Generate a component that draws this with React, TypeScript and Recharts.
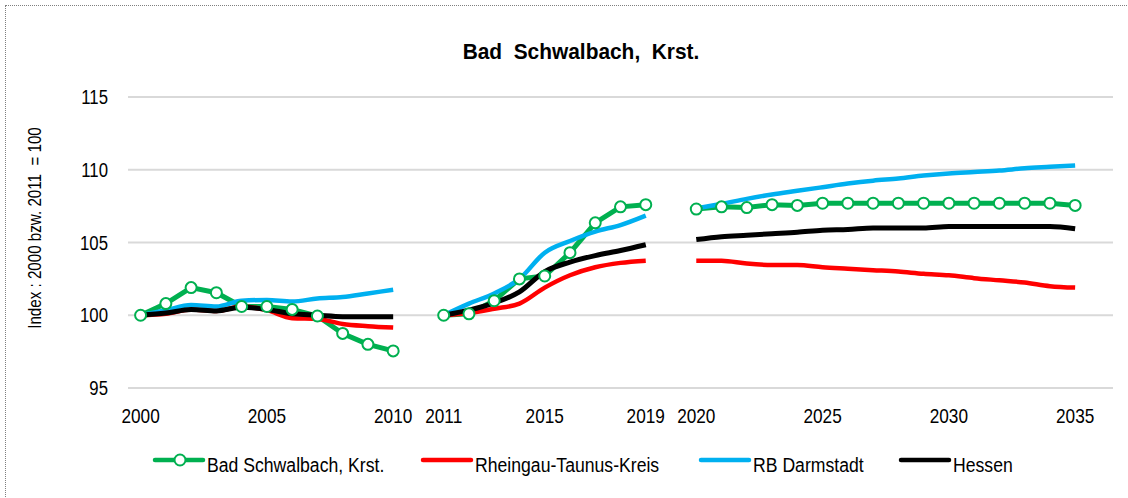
import React from 'react';
import { LineChart, Line, XAxis, YAxis, CartesianGrid, Label } from 'recharts';

// Years per segment
const years1 = ['2000', '2001', '2002', '2003', '2004', '2005', '2006', '2007', '2008', '2009', '2010'];
const years2 = ['2011', '2012', '2013', '2014', '2015', '2016', '2017', '2018', '2019'];
const years3 = ['2020', '2021', '2022', '2023', '2024', '2025', '2026', '2027', '2028', '2029', '2030', '2031', '2032', '2033', '2034', '2035'];

// Bad Schwalbach, Krst.
const green1 = [100, 100.8, 101.9, 101.55, 100.6, 100.6, 100.4, 99.95, 98.75, 98.0, 97.55];
const green2 = [100, 100.1, 101.0, 102.5, 102.7, 104.3, 106.35, 107.45, 107.6];
const green3 = [107.3, 107.45, 107.4, 107.6, 107.55, 107.7, 107.7, 107.7, 107.7, 107.7, 107.7, 107.7, 107.7, 107.7, 107.7, 107.55];

// Rheingau-Taunus-Kreis
const red1 = [100, 100.1, 100.4, 100.3, 100.6, 100.35, 99.8, 99.75, 99.4, 99.25, 99.15];
const red2 = [100, 100.15, 100.45, 100.8, 101.9, 102.75, 103.3, 103.6, 103.75];
const red3 = [103.75, 103.75, 103.55, 103.45, 103.45, 103.3, 103.2, 103.1, 103.0, 102.85, 102.75, 102.55, 102.4, 102.25, 102.0, 101.9];

// RB Darmstadt
const blue1 = [100, 100.35, 100.7, 100.6, 101.0, 101.05, 100.95, 101.15, 101.25, 101.5, 101.75];
const blue2 = [100, 100.8, 101.5, 102.5, 104.3, 105.1, 105.75, 106.2, 106.85];
const blue3 = [107.35, 107.65, 108.0, 108.3, 108.55, 108.8, 109.05, 109.25, 109.4, 109.6, 109.75, 109.85, 109.95, 110.1, 110.2, 110.3];

// Hessen
const black1 = [100, 100.15, 100.4, 100.3, 100.55, 100.4, 100.1, 100.0, 99.9, 99.9, 99.9];
const black2 = [100, 100.35, 100.85, 101.6, 103.0, 103.65, 104.1, 104.45, 104.85];
const black3 = [105.2, 105.4, 105.5, 105.6, 105.7, 105.85, 105.9, 106.0, 106.0, 106.0, 106.1, 106.1, 106.1, 106.1, 106.1, 105.95];

const xTicks = ['2000', '2005', '2010', '2011', '2015', '2019', '2020', '2025', '2030', '2035'];
const yTicks = [95, 100, 105, 110, 115];

const seriesNames = ['Bad Schwalbach, Krst.', 'Rheingau-Taunus-Kreis', 'RB Darmstadt', 'Hessen'];
const seriesKeys = ['green', 'red', 'blue', 'black'];
const seriesColors = ['#00B050', '#FF0000', '#00B0F0', '#000000'];

const segments = [
  { years: years1, green: green1, red: red1, blue: blue1, black: black1 },
  { years: years2, green: green2, red: red2, blue: blue2, black: black2 },
  { years: years3, green: green3, red: red3, blue: blue3, black: black3 },
];

const data: any[] = [];
segments.forEach((seg, si) => {
  seg.years.forEach((y, i) => {
    data.push({ cat: y, green: seg.green[i], red: seg.red[i], blue: seg.blue[i], black: seg.black[i] });
  });
  data.push({ cat: ' '.repeat(si + 1), green: null, red: null, blue: null, black: null });
});

const FONT = "'Liberation Sans', Arial, sans-serif";

const XTick = (props: any) => {
  const { x, y, payload } = props;
  return (
    <text
      x={0}
      y={0}
      transform={`translate(${x},${y + 18}) scale(0.82,1)`}
      textAnchor="middle"
      fontSize={21}
      fontFamily={FONT}
      fill="#000"
    >
      {payload.value}
    </text>
  );
};

const YTick = (props: any) => {
  const { x, y, payload } = props;
  return (
    <text
      x={0}
      y={0}
      transform={`translate(${x},${y + 7}) scale(0.86,1)`}
      textAnchor="end"
      fontSize={19.5}
      fontFamily={FONT}
      fill="#000"
    >
      {payload.value}
    </text>
  );
};

const legendLefts = [153, 421, 699, 899];

const LegendSvg = () => (
  <svg width={1128} height={40} style={{ position: 'absolute', left: 0, top: 440 }}>
    {seriesKeys.map((k, i) => {
      const lx = legendLefts[i];
      return (
        <g key={k}>
          <line x1={lx + 2} y1={20} x2={lx + 50} y2={20} stroke={seriesColors[i]} strokeWidth={4.5} strokeLinecap="round" />
          {i === 0 && <circle cx={lx + 27} cy={20} r={5.5} fill="#fff" stroke={seriesColors[i]} strokeWidth={2} />}
          <text
            x={0}
            y={0}
            transform={`translate(${lx + 54},${31.5}) scale(0.84,1)`}
            fontSize={21}
            fontFamily={FONT}
            fill="#000"
          >
            {seriesNames[i]}
          </text>
        </g>
      );
    })}
  </svg>
);

export default function App() {
  return (
    <div style={{ position: 'absolute', left: 0, top: 0, width: 1128, height: 498, overflow: 'hidden', background: '#fff' }}>
      <div style={{ position: 'absolute', left: 5, top: 5, width: 1140, height: 520, border: '1px dotted #7f7f7f', boxSizing: 'border-box' }} />
      <svg width={1128} height={80} style={{ position: 'absolute', left: 0, top: 0 }}>
        <text
          x={0}
          y={0}
          transform="translate(581,59) scale(0.95,1)"
          textAnchor="middle"
          fontSize={22}
          fontWeight="bold"
          fontFamily={FONT}
          fill="#000"
          style={{ whiteSpace: 'pre' }}
        >
          {'Bad  Schwalbach,  Krst.'}
        </text>
      </svg>
      <div style={{ position: 'absolute', left: 0, top: 0 }}>
        <LineChart width={1128} height={498} data={data} margin={{ top: 97, right: 15, bottom: 70, left: 0 }}>
          <CartesianGrid vertical={false} stroke="#D9D9D9" strokeWidth={2} />
          <XAxis
            dataKey="cat"
            ticks={xTicks}
            interval={0}
            axisLine={false}
            tickLine={false}
            tickSize={6}
            tickMargin={11}
            height={40}
            padding={{ left: 12.6, right: 12.6 }}
            tick={<XTick />}
          />
          <YAxis
            type="number"
            domain={[95, 115]}
            ticks={yTicks}
            axisLine={false}
            tickLine={false}
            tickSize={8}
            tickMargin={12}
            width={128}
            tick={<YTick />}
          >
            <Label
              content={() => (
                <text
                  x={0}
                  y={0}
                  transform="translate(35,228) rotate(-90) scale(0.82,1)"
                  textAnchor="middle"
                  dominantBaseline="central"
                  style={{ whiteSpace: 'pre', fontSize: 18.5, fontFamily: FONT, fill: '#000' }}
                >
                  {'Index : 2000 bzw. 2011  = 100'}
                </text>
              )}
            />
          </YAxis>
          <Line
            dataKey="green"
            name={seriesNames[0]}
            stroke={seriesColors[0]}
            strokeWidth={5}
            type="linear"
            dot={{ r: 5.5, fill: '#fff', stroke: seriesColors[0], strokeWidth: 2 }}
            isAnimationActive={false}
          />
          <Line dataKey="red" name={seriesNames[1]} stroke={seriesColors[1]} strokeWidth={4.5} type="monotone" dot={false} isAnimationActive={false} />
          <Line dataKey="blue" name={seriesNames[2]} stroke={seriesColors[2]} strokeWidth={4.5} type="monotone" dot={false} isAnimationActive={false} />
          <Line dataKey="black" name={seriesNames[3]} stroke={seriesColors[3]} strokeWidth={5} type="monotone" dot={false} isAnimationActive={false} />
        </LineChart>
      </div>
      <LegendSvg />
    </div>
  );
}
